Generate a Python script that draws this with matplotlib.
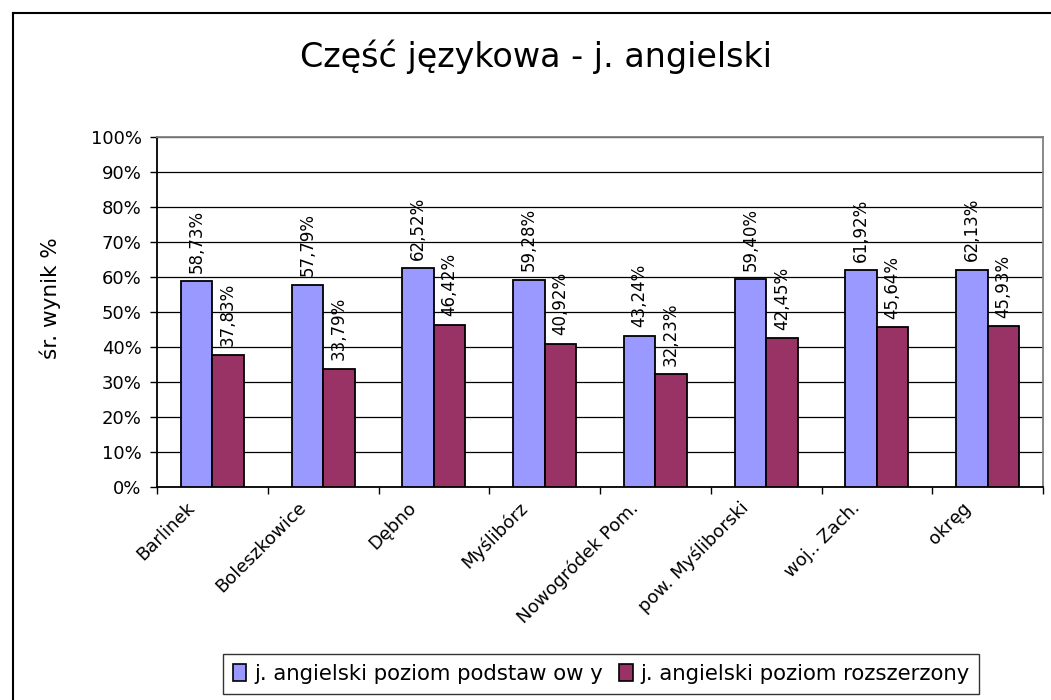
import numpy as np
import matplotlib
matplotlib.use('Agg')
import matplotlib.pyplot as plt
import matplotlib.transforms as mtrans
from matplotlib.lines import Line2D

plt.rcParams['font.family'] = ['DejaVu Sans']

## dane
kategorie = ['Barlinek', 'Boleszkowice', 'Dębno', 'Myślibórz', 'Nowogródek Pom.',
             'pow. Myśliborski', 'woj.. Zach.', 'okręg']
podstawowy = [58.73, 57.79, 62.52, 59.28, 43.24, 59.40, 61.92, 62.13]
rozszerzony = [37.83, 33.79, 46.42, 40.92, 32.23, 42.45, 45.64, 45.93]
serie = ['j. angielski poziom podstaw ow y', 'j. angielski poziom rozszerzony']
kolory = ['#9999FF', '#993366']

W, H = 1051, 700
fig = plt.figure(figsize=(W/100, H/100), dpi=100)
ax = fig.add_axes([157/W, 1-487/H, (1043-157)/W, (487-137)/H])

x = np.arange(len(kategorie))
bw = 0.284
for vals, off, c in [(podstawowy, -bw/2, kolory[0]), (rozszerzony, bw/2, kolory[1])]:
    ax.bar(x+off, vals, bw, color=c, edgecolor='black', linewidth=1.3, zorder=3)
    for xi, v in zip(x+off, vals):
        ax.annotate(('%.2f%%' % v).replace('.', ','), (xi, v), xytext=(0, 6),
                    textcoords='offset points', rotation=90, ha='center', va='bottom',
                    fontsize=12, zorder=4)

ax.set_xlim(-0.5, len(kategorie)-0.5)
ax.set_ylim(0, 100)
ax.set_yticks(np.arange(0, 101, 10))
ax.set_yticklabels(['%d%%' % t for t in range(0, 101, 10)], fontsize=13)
ax.yaxis.grid(True, color='black', linewidth=0.9, zorder=0)
ax.tick_params(axis='y', direction='out', length=5, width=1, pad=6)

ax.set_xticks(np.arange(-0.5, len(kategorie), 1))
ax.set_xticklabels([])
ax.set_xticks(x, minor=True)
ax.set_xticklabels(kategorie, minor=True, rotation=45, ha='right', va='center',
                   rotation_mode='anchor', fontsize=13)
ax.tick_params(axis='x', which='major', direction='out', length=5, width=1)
ax.tick_params(axis='x', which='minor', length=0, pad=13)
przes = mtrans.ScaledTranslation(-20/100, 0, fig.dpi_scale_trans)
for lab in ax.xaxis.get_minorticklabels():
    lab.set_transform(lab.get_transform() + przes)

for s in ['top', 'right']:
    ax.spines[s].set_color('#808080')
    ax.spines[s].set_linewidth(1.3)
for s in ['left', 'bottom']:
    ax.spines[s].set_color('black')
    ax.spines[s].set_linewidth(1.3)

fig.text(536/W, 1-57/H, 'Część językowa - j. angielski', fontsize=24,
         ha='center', va='center')
fig.text(50/W, 1-298/H, 'śr. wynik %', fontsize=15.5, rotation=90,
         ha='center', va='center')

# ramka wykresu
fig.add_artist(Line2D([13/W, 13/W], [1-13/H, 0], color='black', lw=1.5))
fig.add_artist(Line2D([13/W, 1], [1-13/H, 1-13/H], color='black', lw=1.5))

uchwyty = [plt.Rectangle((0, 0), 1, 1, facecolor=c, edgecolor='black', lw=1.2)
           for c in kolory]
leg = fig.legend(uchwyty, serie, loc='center', bbox_to_anchor=(601/W, 1-674/H),
                 ncol=2, fontsize=15.3, frameon=True, fancybox=False,
                 handlelength=0.65, handleheight=0.8, handletextpad=0.35,
                 columnspacing=0.75, borderpad=0.45)
leg.get_frame().set_edgecolor('black')
leg.get_frame().set_linewidth(1.0)

fig.savefig('out.png', dpi=100)
